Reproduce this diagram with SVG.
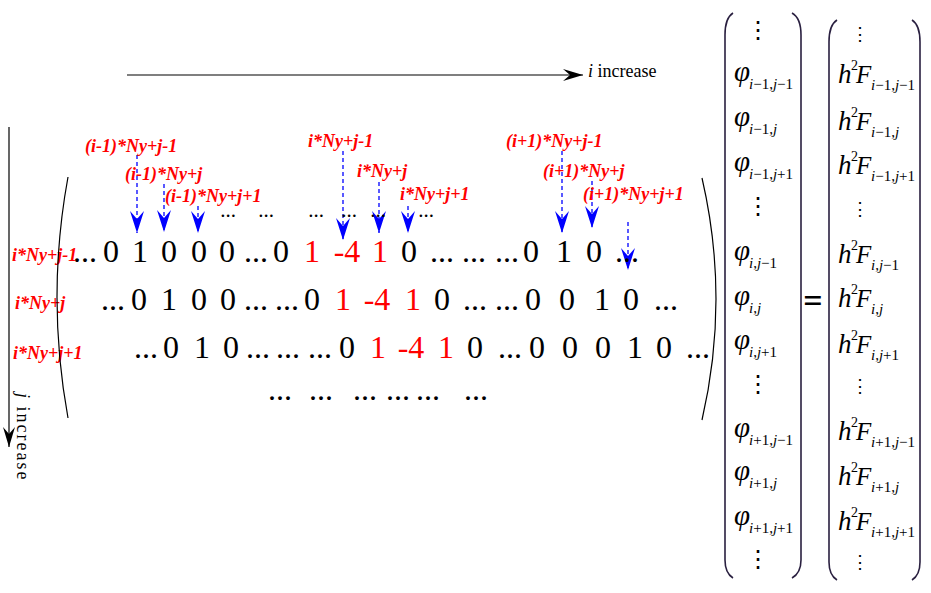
<svg xmlns="http://www.w3.org/2000/svg" width="931" height="593" viewBox="0 0 931 593" font-family="'Liberation Serif', 'Times New Roman', serif">
<style>
text { font-family: "Liberation Serif", "Times New Roman", serif; }
.lbl { font-size: 18px; font-weight: bold; font-style: italic; fill: #ff0000; }
.num { font-size: 32px; fill: #000; text-anchor: middle; }
.red { fill: #ff0000; }
.sdots { font-size: 21px; fill: #000; text-anchor: middle; }
.dash { stroke: #0000ff; stroke-width: 1.3; stroke-dasharray: 4 3; fill: none; marker-end: url(#bh); }
.axis { stroke: #000; stroke-width: 1.2; fill: none; marker-end: url(#kh); }
.paren { fill: none; stroke: #000; stroke-width: 1.2; }
.brk { fill: none; stroke: #2a2040; stroke-width: 1.6; }
.it { font-style: italic; }
.phi { font-size: 29px; font-style: italic; }
.sub { font-size: 15px; }
.hh { font-size: 27px; font-style: italic; }
.ff { font-size: 25px; font-style: italic; }
.sup { font-size: 14px; }
.vd { font-family: "DejaVu Serif", serif; font-size: 24px; text-anchor: middle; }
.vd2 { font-family: "DejaVu Serif", serif; font-size: 18px; text-anchor: middle; }
.cap { font-size: 18px; }
</style>
<defs>
<marker id="bh" viewBox="0 0 22 14" refX="22" refY="7" markerWidth="22" markerHeight="14" markerUnits="userSpaceOnUse" orient="auto">
<path d="M0,0 L22,7 L0,14 L8,7 Z" fill="#0000ff"/>
</marker>
<marker id="kh" viewBox="0 0 20 12" refX="20" refY="6" markerWidth="20" markerHeight="12" markerUnits="userSpaceOnUse" orient="auto">
<path d="M0,0 L20,6 L0,12 L7,6 Z" fill="#000"/>
</marker>
</defs>

<g id="connectors">
<line class="axis" x1="127" y1="75" x2="583" y2="75"/>
<line class="axis" x1="9" y1="127" x2="9" y2="447"/>
<line class="dash" x1="137" y1="155" x2="137" y2="233"/>
<line class="dash" x1="164" y1="184" x2="164" y2="232"/>
<line class="dash" x1="198" y1="206" x2="198" y2="233"/>
<line class="dash" x1="343" y1="151" x2="343" y2="240"/>
<line class="dash" x1="379" y1="182" x2="379" y2="233"/>
<line class="dash" x1="408" y1="206" x2="408" y2="233"/>
<line class="dash" x1="562" y1="151" x2="562" y2="233"/>
<line class="dash" x1="592" y1="181" x2="592" y2="228"/>
<line class="dash" x1="628" y1="222" x2="628" y2="270"/>
</g>

<g id="axis-labels">
<text class="cap" x="588" y="77"><tspan class="it">i</tspan> increase</text>
<text class="cap" transform="translate(17,393) rotate(90)" letter-spacing="2"><tspan class="it">j</tspan> increase</text>
</g>

<g id="column-labels">
<text class="lbl" x="85" y="152">(i-1)*Ny+j-1</text>
<text class="lbl" x="125" y="180">(i-1)*Ny+j</text>
<text class="lbl" x="165" y="202">(i-1)*Ny+j+1</text>
<text class="lbl" x="308" y="147">i*Ny+j-1</text>
<text class="lbl" x="357" y="177">i*Ny+j</text>
<text class="lbl" x="400" y="200">i*Ny+j+1</text>
<text class="lbl" x="506" y="147">(i+1)*Ny+j-1</text>
<text class="lbl" x="543" y="177">(i+1)*Ny+j</text>
<text class="lbl" x="583" y="200">(i+1)*Ny+j+1</text>
</g>

<g id="row-labels">
<text class="lbl" x="12" y="261">i*Ny+j-1</text>
<text class="lbl" x="15" y="309">i*Ny+j</text>
<text class="lbl" x="13" y="359">i*Ny+j+1</text>
</g>

<g id="matrix">
<path class="paren" d="M68,177 Q46,297 68,418"/>
<path class="paren" d="M702,178 Q730,299 702,420"/>
<text class="sdots" y="217"><tspan x="228">...</tspan><tspan x="266">...</tspan><tspan x="316">...</tspan><tspan x="349">...</tspan><tspan x="378">...</tspan><tspan x="426">...</tspan></text>
<text class="num" y="262"><tspan x="85">...</tspan><tspan x="111">0</tspan><tspan x="140">1</tspan><tspan x="169">0</tspan><tspan x="199">0</tspan><tspan x="227">0</tspan><tspan x="256">...</tspan><tspan x="281">0</tspan><tspan x="312" class="red">1</tspan><tspan x="347" class="red">-4</tspan><tspan x="380" class="red">1</tspan><tspan x="409">0</tspan><tspan x="442">...</tspan><tspan x="474">...</tspan><tspan x="507">...</tspan><tspan x="531">0</tspan><tspan x="564">1</tspan><tspan x="594">0</tspan><tspan x="627">...</tspan></text>
<text class="num" y="310"><tspan x="113">...</tspan><tspan x="139">0</tspan><tspan x="169">1</tspan><tspan x="199">0</tspan><tspan x="228">0</tspan><tspan x="256">...</tspan><tspan x="287">...</tspan><tspan x="312">0</tspan><tspan x="343" class="red">1</tspan><tspan x="377" class="red">-4</tspan><tspan x="413" class="red">1</tspan><tspan x="442">0</tspan><tspan x="475">...</tspan><tspan x="507">...</tspan><tspan x="533">0</tspan><tspan x="567">0</tspan><tspan x="602">1</tspan><tspan x="631">0</tspan><tspan x="666">...</tspan></text>
<text class="num" y="358"><tspan x="146">...</tspan><tspan x="171">0</tspan><tspan x="202">1</tspan><tspan x="231">0</tspan><tspan x="258">...</tspan><tspan x="288">...</tspan><tspan x="320">...</tspan><tspan x="347">0</tspan><tspan x="378" class="red">1</tspan><tspan x="411" class="red">-4</tspan><tspan x="446" class="red">1</tspan><tspan x="475">0</tspan><tspan x="510">...</tspan><tspan x="537">0</tspan><tspan x="570">0</tspan><tspan x="603">0</tspan><tspan x="635">1</tspan><tspan x="664">0</tspan><tspan x="698">...</tspan></text>
<text class="num" y="400"><tspan x="280">...</tspan><tspan x="321">...</tspan><tspan x="365">...</tspan><tspan x="398">...</tspan><tspan x="428">...</tspan><tspan x="476">...</tspan></text>
</g>

<g id="vector-phi">
<path class="brk" d="M733,13 Q725,18 725,35 L725,560 Q725,573 733,578"/>
<path class="brk" d="M792,13 Q801,18 801,35 L801,560 Q801,573 792,578"/>
<text class="vd" x="758" y="38">⋮</text>
<text x="734" y="81"><tspan class="phi">φ</tspan><tspan class="sub" x="749" y="89"><tspan class="it">i</tspan>−1,<tspan class="it">j</tspan>−1</tspan></text>
<text x="734" y="126"><tspan class="phi">φ</tspan><tspan class="sub" x="749" y="134"><tspan class="it">i</tspan>−1,<tspan class="it">j</tspan></tspan></text>
<text x="734" y="171"><tspan class="phi">φ</tspan><tspan class="sub" x="749" y="179"><tspan class="it">i</tspan>−1,<tspan class="it">j</tspan>+1</tspan></text>
<text class="vd" x="758" y="214">⋮</text>
<text x="734" y="260"><tspan class="phi">φ</tspan><tspan class="sub" x="749" y="268"><tspan class="it">i</tspan>,<tspan class="it">j</tspan>−1</tspan></text>
<text x="734" y="305"><tspan class="phi">φ</tspan><tspan class="sub" x="749" y="313"><tspan class="it">i</tspan>,<tspan class="it">j</tspan></tspan></text>
<text x="734" y="349"><tspan class="phi">φ</tspan><tspan class="sub" x="749" y="357"><tspan class="it">i</tspan>,<tspan class="it">j</tspan>+1</tspan></text>
<text class="vd" x="758" y="392">⋮</text>
<text x="734" y="437"><tspan class="phi">φ</tspan><tspan class="sub" x="749" y="445"><tspan class="it">i</tspan>+1,<tspan class="it">j</tspan>−1</tspan></text>
<text x="734" y="480"><tspan class="phi">φ</tspan><tspan class="sub" x="749" y="488"><tspan class="it">i</tspan>+1,<tspan class="it">j</tspan></tspan></text>
<text x="734" y="525"><tspan class="phi">φ</tspan><tspan class="sub" x="749" y="533"><tspan class="it">i</tspan>+1,<tspan class="it">j</tspan>+1</tspan></text>
<text class="vd" x="758" y="567">⋮</text>
</g>

<g id="equals">
<text x="813" y="312" font-size="34" font-weight="bold" text-anchor="middle">=</text>
</g>

<g id="vector-rhs">
<path class="brk" d="M837,20 Q829,25 829,42 L829,562 Q829,575 837,580"/>
<path class="brk" d="M912,20 Q920,25 920,42 L920,562 Q920,575 912,580"/>
<text class="vd2" x="860" y="40">⋮</text>
<text x="838" y="83"><tspan class="hh">h</tspan><tspan class="sup" x="851" y="70">2</tspan><tspan class="ff" x="856" y="83">F</tspan><tspan class="sub" x="871" y="90"><tspan class="it">i</tspan>−1,<tspan class="it">j</tspan>−1</tspan></text>
<text x="838" y="130"><tspan class="hh">h</tspan><tspan class="sup" x="851" y="117">2</tspan><tspan class="ff" x="856" y="130">F</tspan><tspan class="sub" x="871" y="137"><tspan class="it">i</tspan>−1,<tspan class="it">j</tspan></tspan></text>
<text x="838" y="174"><tspan class="hh">h</tspan><tspan class="sup" x="851" y="161">2</tspan><tspan class="ff" x="856" y="174">F</tspan><tspan class="sub" x="871" y="181"><tspan class="it">i</tspan>−1,<tspan class="it">j</tspan>+1</tspan></text>
<text class="vd2" x="860" y="215">⋮</text>
<text x="838" y="263"><tspan class="hh">h</tspan><tspan class="sup" x="851" y="250">2</tspan><tspan class="ff" x="856" y="263">F</tspan><tspan class="sub" x="871" y="270"><tspan class="it">i</tspan>,<tspan class="it">j</tspan>−1</tspan></text>
<text x="838" y="307"><tspan class="hh">h</tspan><tspan class="sup" x="851" y="294">2</tspan><tspan class="ff" x="856" y="307">F</tspan><tspan class="sub" x="871" y="314"><tspan class="it">i</tspan>,<tspan class="it">j</tspan></tspan></text>
<text x="838" y="353"><tspan class="hh">h</tspan><tspan class="sup" x="851" y="340">2</tspan><tspan class="ff" x="856" y="353">F</tspan><tspan class="sub" x="871" y="360"><tspan class="it">i</tspan>,<tspan class="it">j</tspan>+1</tspan></text>
<text class="vd2" x="860" y="392">⋮</text>
<text x="838" y="440"><tspan class="hh">h</tspan><tspan class="sup" x="851" y="427">2</tspan><tspan class="ff" x="856" y="440">F</tspan><tspan class="sub" x="871" y="447"><tspan class="it">i</tspan>+1,<tspan class="it">j</tspan>−1</tspan></text>
<text x="838" y="485"><tspan class="hh">h</tspan><tspan class="sup" x="851" y="472">2</tspan><tspan class="ff" x="856" y="485">F</tspan><tspan class="sub" x="871" y="492"><tspan class="it">i</tspan>+1,<tspan class="it">j</tspan></tspan></text>
<text x="838" y="530"><tspan class="hh">h</tspan><tspan class="sup" x="851" y="517">2</tspan><tspan class="ff" x="856" y="530">F</tspan><tspan class="sub" x="871" y="537"><tspan class="it">i</tspan>+1,<tspan class="it">j</tspan>+1</tspan></text>
<text class="vd2" x="860" y="568">⋮</text>
</g>
</svg>
